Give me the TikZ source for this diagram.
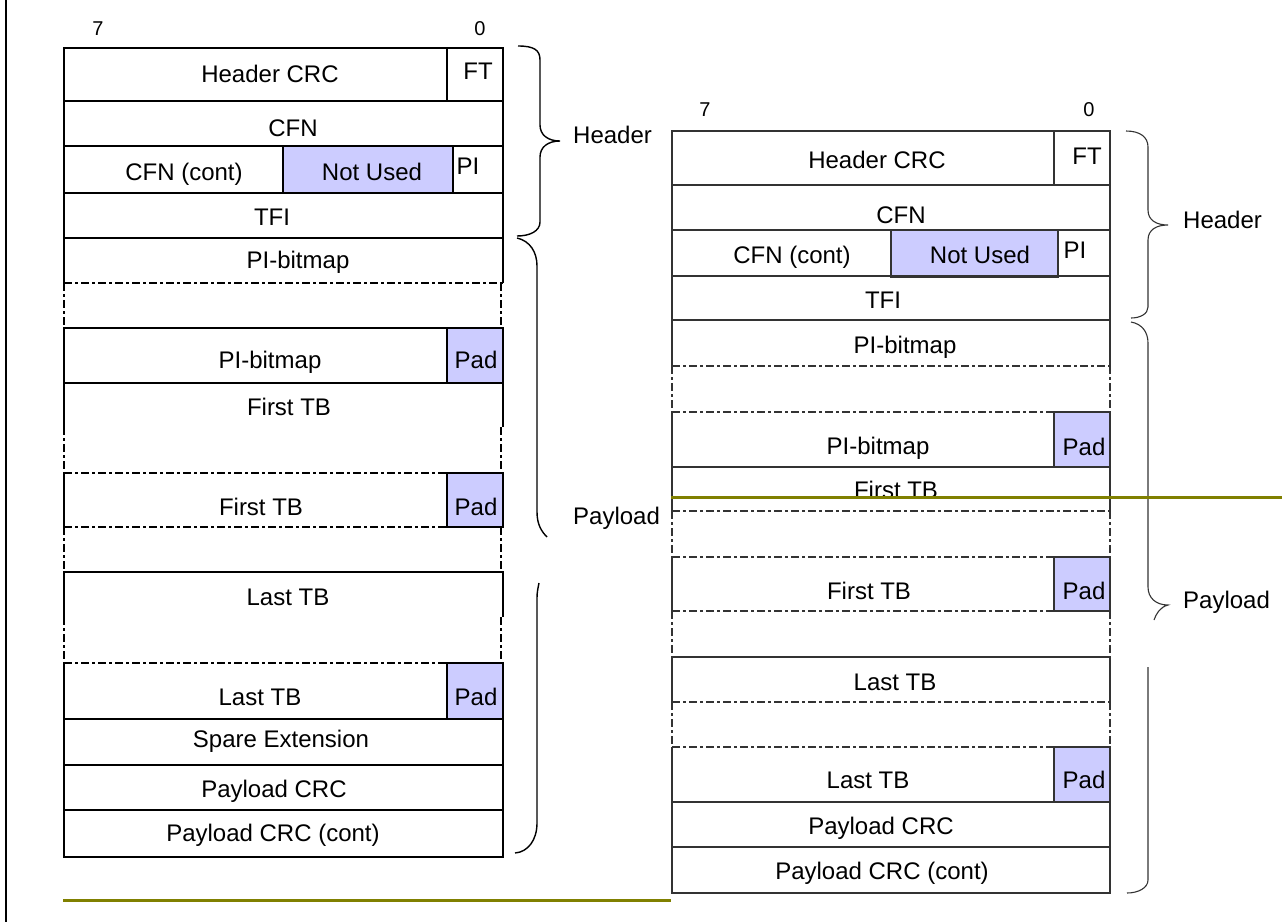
\documentclass[tikz,border=0pt]{standalone}
\usepackage{fontspec}
\setmainfont{Liberation Sans}
\definecolor{padc}{RGB}{204,204,255}
\definecolor{oliv}{RGB}{128,128,0}
\begin{document}
\begin{tikzpicture}[x=1pt,y=-1pt,
  L/.style={line width=1.5pt, black},
  R/.style={line width=1.1pt, black!80},
  dd/.style={dash pattern=on 8pt off 3pt on 3pt off 3pt},
  padbox/.style={fill=padc},
  lbl/.style={font=\fontsize{24}{28}\selectfont, inner sep=0pt, text height=17pt, text depth=0pt},
  bit/.style={font=\fontsize{20}{24}\selectfont, inner sep=0pt, text height=14pt, text depth=0pt},
  braceL/.style={line width=1.4pt, black},
  braceR/.style={line width=1.1pt, black!80},
  olive/.style={line width=3pt, oliv}]
\useasboundingbox (0,0) rectangle (1282,922);

% left margin rule
\draw[line width=2pt] (6,0) -- (6,922);

% ================= LEFT DIAGRAM =================
\draw[L] (64,48) rectangle (503,101);
\draw[L] (447,48) -- (447,101);
\draw[L] (64,101) rectangle (503,146);
\draw[L] (64,146) rectangle (503,193);
\draw[L,padbox] (283,146) rectangle (453,193);
\draw[L] (64,193) rectangle (503,238);
\draw[L] (64,283) -- (64,238) -- (503,238) -- (503,283);
\draw[L,dd] (64,283) -- (503,283);
\draw[L,dd] (64,283) -- (64,328) (501,283) -- (501,328);
\draw[L] (64,328) rectangle (503,383);
\draw[L,padbox] (447,328) rectangle (503,383);
\draw[L] (64,427) -- (64,383) (503,383) -- (503,427);
\draw[L,dd] (64,427) -- (64,473) (501,427) -- (501,473);
\draw[L] (64,473) -- (64,527);
\draw[L,dd] (64,473) -- (447,473) (64,527) -- (447,527);
\draw[L,padbox] (447,473) rectangle (503,527);
\draw[L,dd] (64,527) -- (64,572) (501,527) -- (501,572);
\draw[L] (64,617) -- (64,572) -- (503,572) -- (503,617);
\draw[L,dd] (64,617) -- (64,663) (501,617) -- (501,663);
\draw[L,dd] (64,663) -- (447,663);
\draw[L] (64,663) -- (64,719) -- (503,719);
\draw[L,padbox] (447,663) rectangle (503,719);
\draw[L] (64,719) rectangle (503,765);
\draw[L] (64,765) rectangle (503,810);
\draw[L] (64,810) rectangle (503,857);

\node[bit] (l7) at (98,28) {7};
\node[bit] (l0) at (480,28) {0};
\node[lbl] (lhcrc) at (270,74) {Header CRC};
\node[lbl] (lft) at (478,71) {FT};
\node[lbl] (lcfn) at (293,128) {CFN};
\node[lbl] (lcfnc) at (184,172) {CFN (cont)};
\node[lbl] (lnu) at (372,172) {Not Used};
\node[lbl] (lpi) at (468,166) {PI};
\node[lbl] (ltfi) at (272,217) {TFI};
\node[lbl] (lpib1) at (298,260) {PI-bitmap};
\node[lbl] (lpib2) at (270,360) {PI-bitmap};
\node[lbl] (lpad1) at (476,360) {Pad};
\node[lbl] (lftb1) at (289,407) {First TB};
\node[lbl] (lftb2) at (261,507) {First TB};
\node[lbl] (lpad2) at (476,507) {Pad};
\node[lbl] (lltb1) at (288,597) {Last TB};
\node[lbl] (lltb2) at (260,697) {Last TB};
\node[lbl] (lpad3) at (476,697) {Pad};
\node[lbl] (lspare) at (281,739) {Spare Extension};
\node[lbl] (lpcrc) at (274,789) {Payload CRC};
\node[lbl] (lpcrcc) at (273,833) {Payload CRC (cont)};

% left braces
\draw[braceL] (518,46) .. controls (534,46) and (540,50) .. (540,60) -- (540,125)
  .. controls (540,135) and (548,141) .. (560,141)
  .. controls (548,141) and (540,147) .. (540,157) -- (540,222)
  .. controls (540,231) and (530,236) .. (517,236);
\draw[braceL] (517,238) .. controls (530,241) and (537,252) .. (537,266) -- (537,512)
  .. controls (537,525) and (542,532) .. (547,537);
\draw[braceL] (539,583) .. controls (538,588) and (537,592) .. (537,598) -- (537,823)
  .. controls (537,840) and (528,852) .. (515,853);
\node[lbl, anchor=west] (lheader) at (573,135) {Header};
\node[lbl, anchor=west] (lpayload) at (573,516) {Payload};

% ================= RIGHT DIAGRAM =================
\draw[R] (672,131) rectangle (1110,185);
\draw[R] (1054,131) -- (1054,185);
\draw[R] (672,185) rectangle (1110,230);
\draw[R] (672,230) rectangle (1110,276);
\draw[R,padbox] (891,230) rectangle (1058,277);
\draw[R] (672,276) rectangle (1110,320);
\draw[R] (672,366) -- (672,320) -- (1110,320) -- (1110,366);
\draw[R,dd] (672,366) -- (1110,366);
\draw[R,dd] (672,366) -- (672,412) (1110,366) -- (1110,412);
\draw[R,dd] (672,412) -- (1054,412);
\draw[R] (672,412) -- (672,467) -- (1110,467);
\draw[R,padbox] (1054,412) rectangle (1110,467);
\draw[R] (672,467) -- (672,511) (1110,467) -- (1110,511);
\draw[R,dd] (672,511) -- (1110,511);
\draw[R,dd] (672,511) -- (672,557) (1110,511) -- (1110,557);
\draw[R,dd] (672,557) -- (1054,557) (672,611) -- (1110,611);
\draw[R] (672,557) -- (672,611);
\draw[R,padbox] (1054,557) rectangle (1110,611);
\draw[R,dd] (672,611) -- (672,657) (1110,611) -- (1110,657);
\draw[R] (672,702) -- (672,657) -- (1110,657) -- (1110,702);
\draw[R,dd] (672,702) -- (1110,702);
\draw[R,dd] (672,702) -- (672,747) (1110,702) -- (1110,747);
\draw[R,dd] (672,747) -- (1054,747);
\draw[R] (672,747) -- (672,802) -- (1110,802);
\draw[R,padbox] (1054,747) rectangle (1110,802);
\draw[R] (672,802) rectangle (1110,847);
\draw[R] (672,847) rectangle (1110,893);

\node[bit] (r7) at (705,109) {7};
\node[bit] (r0) at (1089,109) {0};
\node[lbl] (rhcrc) at (877,160) {Header CRC};
\node[lbl] (rft) at (1087,156) {FT};
\node[lbl] (rcfn) at (901,215) {CFN};
\node[lbl] (rcfnc) at (792,255) {CFN (cont)};
\node[lbl] (rnu) at (980,255) {Not Used};
\node[lbl] (rpi) at (1075,250) {PI};
\node[lbl] (rtfi) at (883,300) {TFI};
\node[lbl] (rpib1) at (905,345) {PI-bitmap};
\node[lbl] (rpib2) at (878,446) {PI-bitmap};
\node[lbl] (rpad1) at (1084,447) {Pad};
\node[lbl] (rftb1) at (896,490) {First TB};
\node[lbl] (rftb2) at (869,591) {First TB};
\node[lbl] (rpad2) at (1084,591) {Pad};
\node[lbl] (rltb1) at (895,682) {Last TB};
\node[lbl] (rltb2) at (868,780) {Last TB};
\node[lbl] (rpad3) at (1084,780) {Pad};
\node[lbl] (rpcrc) at (881,826) {Payload CRC};
\node[lbl] (rpcrcc) at (882,871) {Payload CRC (cont)};

% right braces
\draw[braceR] (1126,131) .. controls (1140,131) and (1148,137) .. (1148,147) -- (1148,210)
  .. controls (1148,220) and (1156,225) .. (1168,225)
  .. controls (1156,225) and (1148,230) .. (1148,240) -- (1148,307)
  .. controls (1148,314) and (1140,318) .. (1131,318);
\draw[braceR] (1131,322) .. controls (1142,324) and (1148,332) .. (1148,343) -- (1148,587)
  .. controls (1148,598) and (1156,605) .. (1168,605)
  .. controls (1160,607) and (1156,614) .. (1154,620);
\draw[braceR] (1148,667) -- (1148,880) .. controls (1148,888) and (1138,893) .. (1127,893);
\node[lbl, anchor=west] (rheader) at (1183,220) {Header};
\node[lbl, anchor=west] (rpayload) at (1183,600) {Payload};

% olive rules
\draw[olive] (63,900) -- (671,900);
\draw[olive] (671,497) -- (1282,497);
\end{tikzpicture}
\end{document}
